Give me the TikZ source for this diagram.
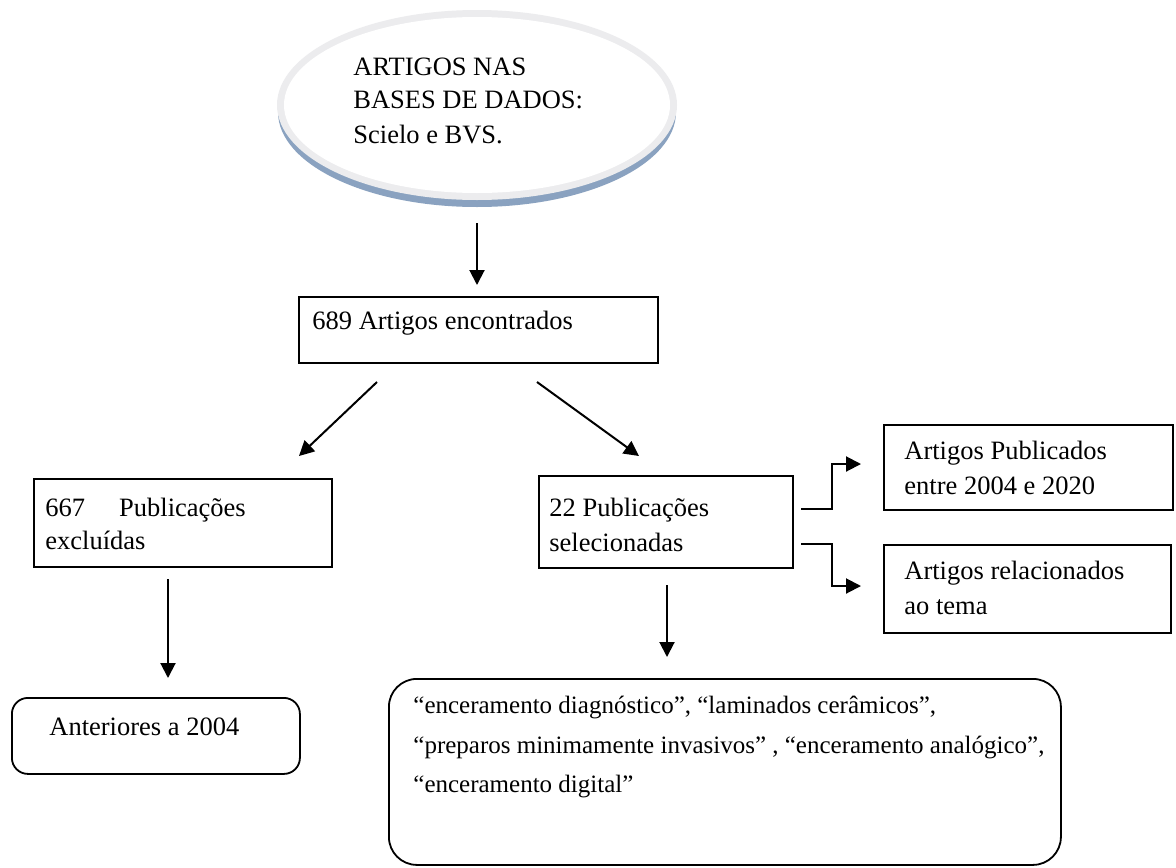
\documentclass[tikz,border=0pt]{standalone}
\usepackage{fontspec}
\setmainfont{Liberation Serif}
\usetikzlibrary{arrows.meta,shapes.geometric,calc}
\definecolor{rimgrey}{RGB}{236,236,238}
\definecolor{shadowblue}{RGB}{138,162,192}
\begin{document}
\begin{tikzpicture}[x=0.5pt,y=-0.5pt,
  box/.style={draw=black, line width=0.9pt, anchor=north west, inner sep=0pt},
  txt/.style={anchor=base west, inner sep=0pt, font=\fontsize{13.25pt}{17.25pt}\selectfont},
  stxt/.style={anchor=base west, inner sep=0pt, font=\fontsize{12.5pt}{19.5pt}\selectfont},
  arr/.style={line width=1pt, -{Triangle[length=7.5pt,width=7.5pt]}},
]
\fill[white] (0,0) rectangle (1176,867);
\useasboundingbox (0,0) rectangle (1176,867);

% ---- source ellipse (3D look)
\fill[shadowblue] (477,112) ellipse [x radius=99.5pt, y radius=47.5pt];
\fill[rimgrey] (477,105) ellipse [x radius=100pt, y radius=47.5pt];
\node[ellipse, fill=white, inner sep=0pt, minimum width=193pt, minimum height=88pt] (source) at (477,105) {};
\node[txt] (s1) at (353,75) {ARTIGOS NAS};
\node[txt] (s2) at (353,108) {BASES DE DADOS:};
\node[txt] (s3) at (353,143) {Scielo e BVS.};

% ---- boxes
\node[box, minimum width=179.5pt, minimum height=33pt] (found) at (298,296) {};
\node[txt] (foundtxt) at (312,329) {689 Artigos encontrados};

\node[box, minimum width=149pt, minimum height=44pt] (excl) at (33,478) {};
\node[txt] (excl1) at (45,516) {667\hspace{17pt}Publicações};
\node[txt] (excl2) at (45,549) {excluídas};

\node[box, minimum width=127pt, minimum height=46pt] (sel) at (538,475) {};
\node[txt] (sel1) at (549,516) {22 Publicações};
\node[txt] (sel2) at (549,551) {selecionadas};

\node[box, minimum width=144.5pt, minimum height=42.5pt] (pub) at (883,424) {};
\node[txt] (pub1) at (904,459) {Artigos Publicados};
\node[txt] (pub2) at (904,494) {entre 2004 e 2020};

\node[box, minimum width=143.5pt, minimum height=44pt] (rel) at (883,544) {};
\node[txt] (rel1) at (904,579) {Artigos relacionados};
\node[txt] (rel2) at (904,614) {ao tema};

\node[box, rounded corners=8pt, minimum width=144pt, minimum height=38pt] (ant) at (11,697) {};
\node[txt] (anttxt) at (49,735) {Anteriores a 2004};

\node[box, rounded corners=14pt, minimum width=336pt, minimum height=93pt] (kw) at (388,678) {};
\node[stxt] (kw1) at (413,713) {“enceramento diagnóstico”, “laminados cerâmicos”,};
\node[stxt] (kw2) at (413,753) {“preparos minimamente invasivos” , “enceramento analógico”,};
\node[stxt] (kw3) at (413,792) {“enceramento digital”};

% ---- connectors
\draw[arr, shorten <=15pt, shorten >=5.5pt] (source.south) -- (source.south |- found.north);

\coordinate (dlA) at (377,382);
\coordinate (dlB) at (299,456);
\coordinate (drA) at (537,382);
\coordinate (drB) at (639,456);
\draw[arr] (dlA) -- (dlB);
\draw[arr] (drA) -- (drB);

\coordinate (upA) at (801,509);
\coordinate (upB) at (861,464);
\draw[arr] (upA) -- (832,509) |- (upB);
\coordinate (loA) at (801,544);
\coordinate (loB) at (861,586);
\draw[arr] (loA) -- (832,544) |- (loB);

\coordinate (exA) at (168,579);
\draw[arr, shorten >=9.5pt] (exA) -- (exA |- ant.north);
\coordinate (seA) at (667,585);
\draw[arr, shorten >=10.5pt] (seA) -- (seA |- kw.north);
\end{tikzpicture}
\end{document}
